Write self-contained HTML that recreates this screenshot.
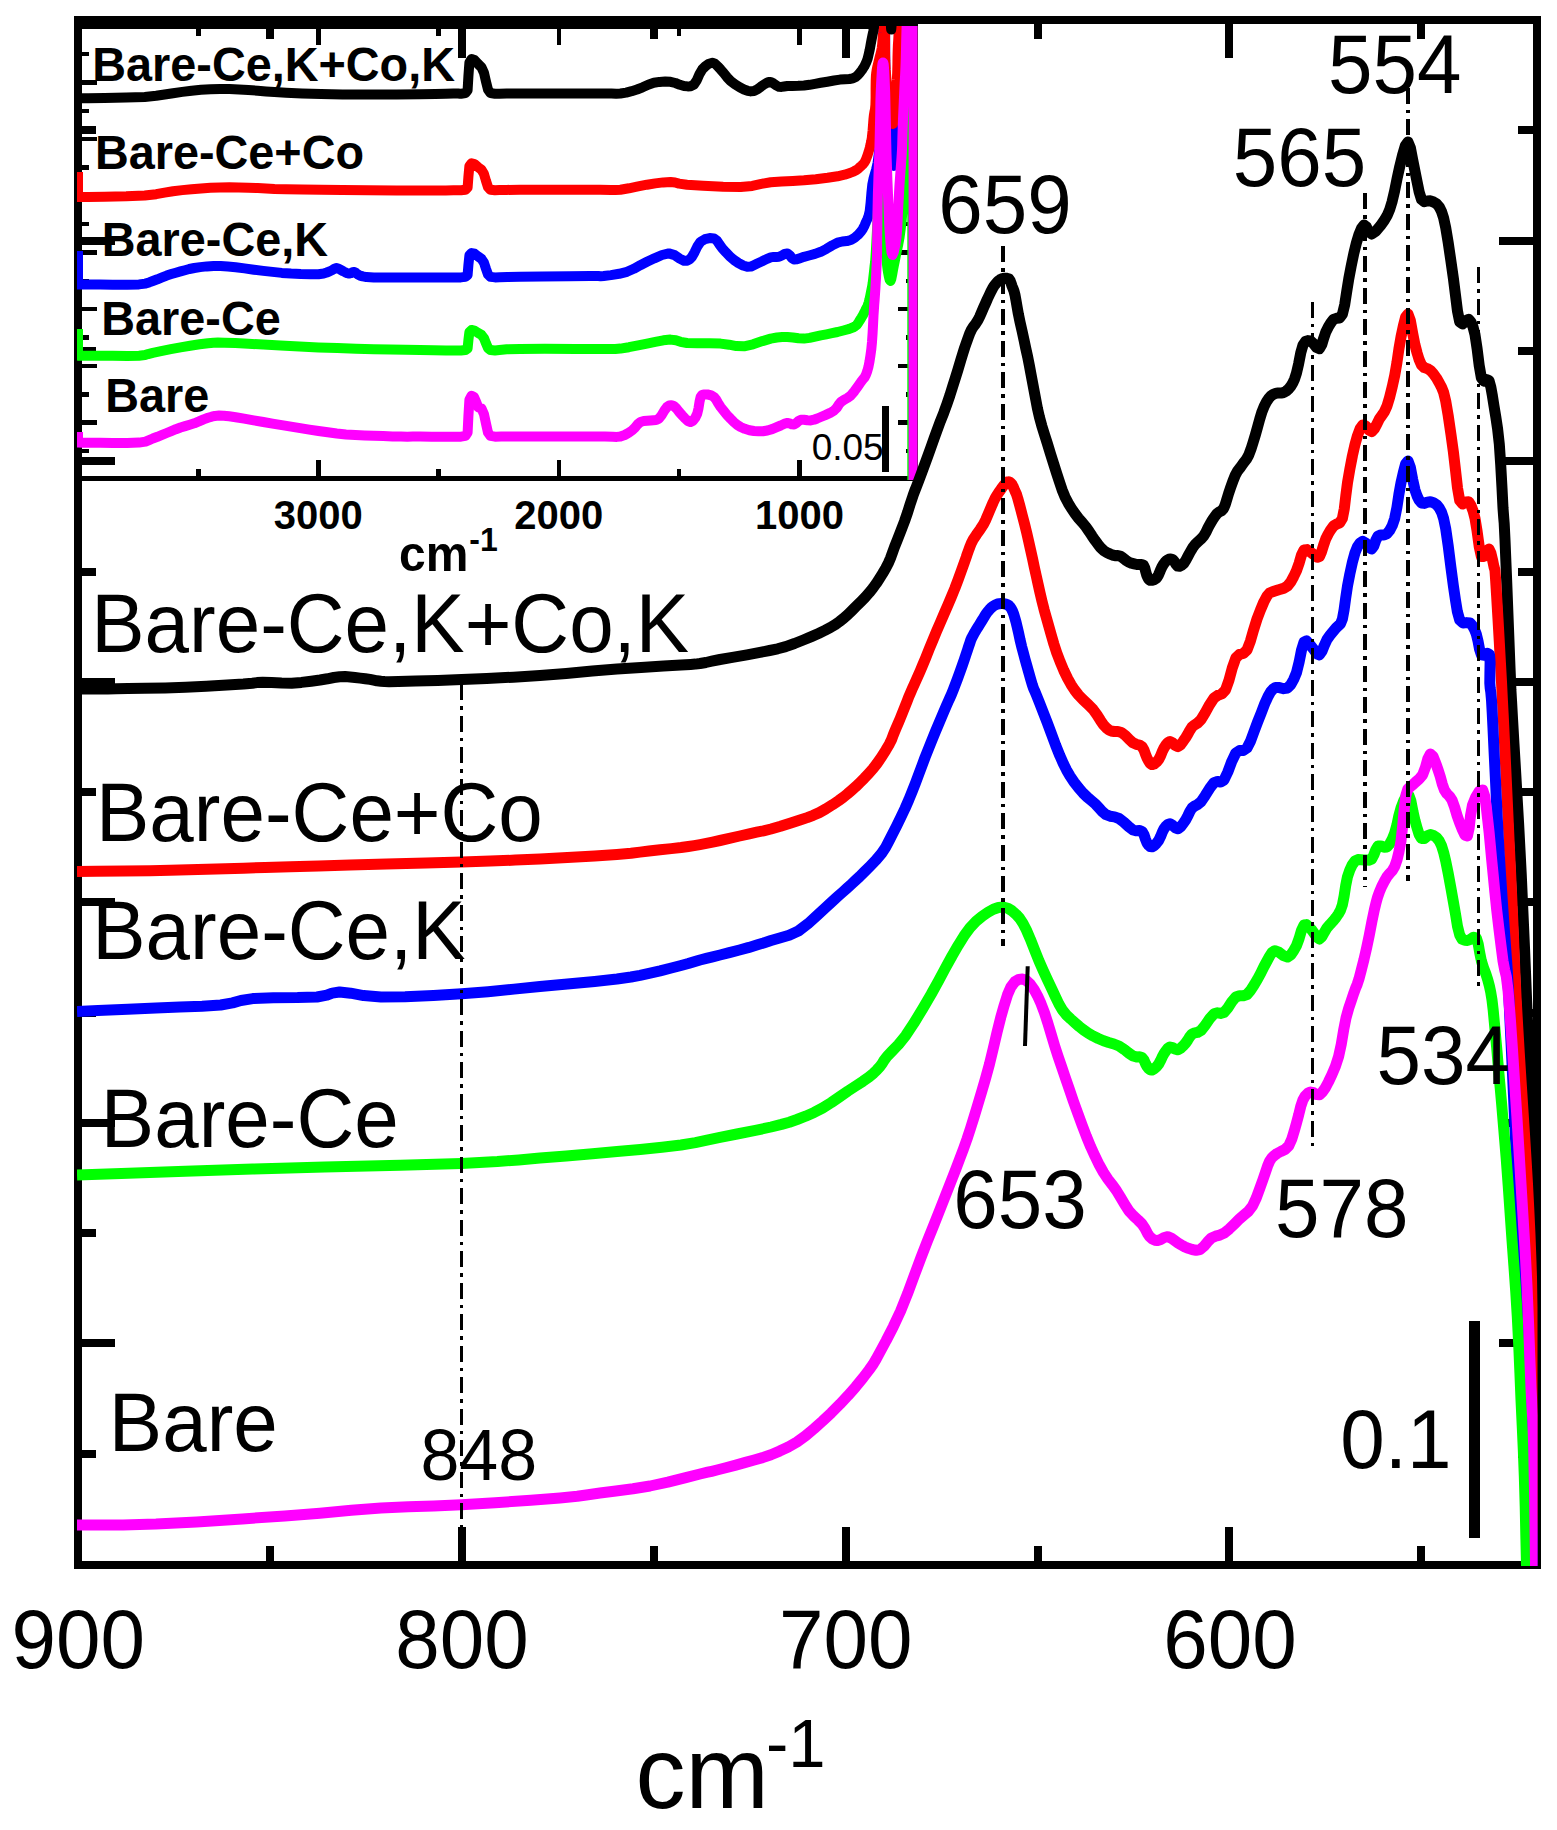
<!DOCTYPE html>
<html lang="en"><head><meta charset="utf-8"><title>IR spectra</title>
<style>html,body{margin:0;padding:0;background:#fff}body{width:1557px;height:1830px;overflow:hidden}svg{display:block}text{font-family:"Liberation Sans",Arial,Helvetica,sans-serif;fill:#000}.b{font-weight:bold}</style>
</head><body>
<svg width="1557" height="1830" viewBox="0 0 1557 1830">
<defs><clipPath id="cm"><rect x="77" y="20" width="1460.5" height="1546"/></clipPath><clipPath id="ci"><rect x="77" y="26" width="840.5" height="454"/></clipPath></defs>
<rect width="1557" height="1830" fill="#fff"/>
<g fill="#000" shape-rendering="crispEdges">
<rect x="74" y="16" width="8" height="1553"/><rect x="1533" y="16" width="8" height="1553"/><rect x="74" y="16" width="1467" height="8"/><rect x="74" y="1561" width="1467" height="8"/>
<rect x="266.0" y="1546" width="8" height="15"/>
<rect x="266.0" y="24" width="8" height="15"/>
<rect x="457.9" y="1527" width="8" height="34"/>
<rect x="457.9" y="24" width="8" height="34"/>
<rect x="649.8" y="1546" width="8" height="15"/>
<rect x="649.8" y="24" width="8" height="15"/>
<rect x="841.6" y="1527" width="8" height="34"/>
<rect x="841.6" y="24" width="8" height="34"/>
<rect x="1033.5" y="1546" width="8" height="15"/>
<rect x="1033.5" y="24" width="8" height="15"/>
<rect x="1225.4" y="1527" width="8" height="34"/>
<rect x="1225.4" y="24" width="8" height="34"/>
<rect x="1417.3" y="1546" width="8" height="15"/>
<rect x="1417.3" y="24" width="8" height="15"/>
<rect x="82" y="126.4" width="14" height="8"/>
<rect x="1518" y="126.4" width="15" height="8"/>
<rect x="82" y="236.7" width="33" height="8"/>
<rect x="1499" y="236.7" width="34" height="8"/>
<rect x="82" y="346.9" width="14" height="8"/>
<rect x="1518" y="346.9" width="15" height="8"/>
<rect x="82" y="457.2" width="33" height="8"/>
<rect x="1499" y="457.2" width="34" height="8"/>
<rect x="82" y="567.5" width="14" height="8"/>
<rect x="1518" y="567.5" width="15" height="8"/>
<rect x="82" y="677.7" width="33" height="8"/>
<rect x="1499" y="677.7" width="34" height="8"/>
<rect x="82" y="788.0" width="14" height="8"/>
<rect x="1518" y="788.0" width="15" height="8"/>
<rect x="82" y="898.2" width="33" height="8"/>
<rect x="1499" y="898.2" width="34" height="8"/>
<rect x="82" y="1008.5" width="14" height="8"/>
<rect x="1518" y="1008.5" width="15" height="8"/>
<rect x="82" y="1118.7" width="33" height="8"/>
<rect x="1499" y="1118.7" width="34" height="8"/>
<rect x="82" y="1229.0" width="14" height="8"/>
<rect x="1518" y="1229.0" width="15" height="8"/>
<rect x="82" y="1339.2" width="33" height="8"/>
<rect x="1499" y="1339.2" width="34" height="8"/>
<rect x="82" y="1449.5" width="14" height="8"/>
<rect x="1518" y="1449.5" width="15" height="8"/>
<rect x="78" y="24" width="840" height="5"/><rect x="78" y="476" width="840" height="5"/><rect x="913" y="24" width="5" height="457"/>
<rect x="196.0" y="469.0" width="4.5" height="7.0"/>
<rect x="196.0" y="29" width="4.5" height="6.5"/>
<rect x="316.2" y="460.0" width="4.5" height="16.0"/>
<rect x="316.2" y="29" width="4.5" height="15.5"/>
<rect x="436.4" y="469.0" width="4.5" height="7.0"/>
<rect x="436.4" y="29" width="4.5" height="6.5"/>
<rect x="556.6" y="460.0" width="4.5" height="16.0"/>
<rect x="556.6" y="29" width="4.5" height="15.5"/>
<rect x="676.8" y="469.0" width="4.5" height="7.0"/>
<rect x="676.8" y="29" width="4.5" height="6.5"/>
<rect x="797.0" y="460.0" width="4.5" height="16.0"/>
<rect x="797.0" y="29" width="4.5" height="15.5"/>
<rect x="82" y="51.8" width="6.5" height="4.5"/>
<rect x="906.0" y="51.8" width="7.0" height="4.5"/>
<rect x="82" y="80.1" width="15.0" height="4.5"/>
<rect x="897.5" y="80.1" width="15.5" height="4.5"/>
<rect x="82" y="108.5" width="6.5" height="4.5"/>
<rect x="906.0" y="108.5" width="7.0" height="4.5"/>
<rect x="82" y="136.8" width="15.0" height="4.5"/>
<rect x="897.5" y="136.8" width="15.5" height="4.5"/>
<rect x="82" y="165.2" width="6.5" height="4.5"/>
<rect x="906.0" y="165.2" width="7.0" height="4.5"/>
<rect x="82" y="193.5" width="15.0" height="4.5"/>
<rect x="897.5" y="193.5" width="15.5" height="4.5"/>
<rect x="82" y="221.9" width="6.5" height="4.5"/>
<rect x="906.0" y="221.9" width="7.0" height="4.5"/>
<rect x="82" y="250.2" width="15.0" height="4.5"/>
<rect x="897.5" y="250.2" width="15.5" height="4.5"/>
<rect x="82" y="278.6" width="6.5" height="4.5"/>
<rect x="906.0" y="278.6" width="7.0" height="4.5"/>
<rect x="82" y="306.9" width="15.0" height="4.5"/>
<rect x="897.5" y="306.9" width="15.5" height="4.5"/>
<rect x="82" y="335.3" width="6.5" height="4.5"/>
<rect x="906.0" y="335.3" width="7.0" height="4.5"/>
<rect x="82" y="363.6" width="15.0" height="4.5"/>
<rect x="897.5" y="363.6" width="15.5" height="4.5"/>
<rect x="82" y="392.0" width="6.5" height="4.5"/>
<rect x="906.0" y="392.0" width="7.0" height="4.5"/>
<rect x="82" y="420.3" width="15.0" height="4.5"/>
<rect x="897.5" y="420.3" width="15.5" height="4.5"/>
<rect x="82" y="448.7" width="6.5" height="4.5"/>
<rect x="906.0" y="448.7" width="7.0" height="4.5"/>
</g>
<g clip-path="url(#ci)" fill="none" stroke-width="10" stroke-linejoin="round" stroke-linecap="butt">
<path d="M78 251L78 284.6L83.1 284.6L90.6 284.6L100 284.6L112.7 284.7L127.2 284.7L139 284.4L145.5 283.6L149.1 282.4L152.8 281L157.4 279.3L162.1 277.4L166.7 275.6L171.3 274.1L175.9 272.7L180.5 271.4L184.9 270.2L189.3 269L194.3 268L200.2 267.1L206.8 266.4L213.6 266L220.6 266.1L227.8 266.6L235.7 267.3L244.5 268.4L253.9 269.7L263.3 270.9L272.5 271.9L281.8 272.9L291 273.6L300.8 274.1L310.6 274.3L318.5 274.2L323.6 273.5L326.8 272.5L329.6 271.4L332.2 270.1L334.4 268.7L336.5 268L338.8 268.7L341.2 270.1L343.4 271.4L345.4 272.4L347.2 273.2L349 273.6L350.8 273.2L352.6 272.3L354.4 272L355.9 272.9L357.5 274.3L360 275.6L362.8 276.4L366.5 277.1L373.8 277.5L387.2 277.6L404.2 277.6L420 277.5L433.6 277.5L445.9 277.5L455 277.5L459.4 277.5L460.5 277.4L461 277.4L465.5 276.9L467.6 275L468.4 265.2L469.4 255.4L471.5 253L474.5 253.7L478 256.4L481.5 258.9L484 262.8L486 268.9L488 274.5L490.5 276.9L495 277.4L499.8 277.3L507.4 277L520 276.8L542.1 276.5L569.2 276.2L590 276L598.4 276.1L600.5 276.3L603.7 276L610.9 275.1L619.1 273.8L627 271.8L633.8 268.8L640.3 265.2L647 261.8L654.4 258.3L662 255L668.8 253.4L674.6 255.1L679.7 258.6L684 260.8L687.2 260.7L689.6 259.4L692 256.8L694.6 252.2L697.4 246.3L700.6 241.7L704.9 239.2L709.7 238.1L714 238.4L717 240.7L719.5 244.5L722.3 248.4L725.9 252.3L729.9 256.4L734 260L738.4 263L743.1 265.5L747.3 266.8L750.8 266.6L753.8 265.2L757.3 263.5L761.7 261.5L766.5 259.1L770.7 257.4L773.8 256.9L776.4 257L779 256.8L781.9 255.5L784.7 253.9L787.4 253.4L789.6 255.1L791.6 257.8L794 259.5L796.8 259.3L800 258.2L804 256.8L809.1 255.5L815 253.9L820.8 251.8L826.5 248.8L832.2 245.4L837.5 242.7L842.3 241.5L846.8 241.1L850.9 240L854.7 237.7L858.1 234.8L860.9 231.7L863 228.6L864.6 225.4L866 222L867.4 219L868.6 215.9L869.7 211L870.6 202.9L871.4 193.1L872.3 184.6L873.5 178.7L874.8 174.2L876 170L876.9 166.2L877.6 162.7L878.2 158.4L878.8 153.6L879.4 148L880 140L880.5 128.6L881 114.9L881.5 100L882 83.7L882.5 66.3L883 50L883.4 34.4L883.7 20L884 10L884.4 4.4L884.7 3.3L885 10L885.1 29.3L885.2 56.3L885.5 80L886 96L886.7 108.7L887.5 120L888.4 130.6L889.4 139.9L890.5 148L891.6 156.4L892.8 163.6L893.8 166L894.5 160.5L895 150.1L895.5 140L896.1 132.3L896.8 124.8L897.5 116L898.3 106.1L899.2 95L900 80L900.8 56.6L901.5 29.4L902 10L913 10L913 490" stroke="#0000ff"/>
<path d="M78 172L78 197L78.9 197.1L80.8 197.1L88 197L104.5 196.7L126.2 196.3L144.7 195.5L156.2 194.2L164.6 192.6L173 191.2L182.3 190.1L191.6 189.2L201 188.4L210.5 187.8L220 187.5L229.5 187.3L238.9 187.4L248.3 187.7L257.7 188L266.1 188.4L274.5 188.9L286 189.3L302 189.6L321.1 189.8L342.5 190L368.4 190.2L396.7 190.4L420 190.5L435.4 190.5L445.8 190.4L453.4 190.3L458.1 190.3L460 190.3L461 190.3L465.5 189.8L467.6 187.6L468.4 176.8L469.4 166L471.5 163.3L474.5 164.1L478 167.1L481.5 169.8L484 174.1L486 180.9L488 187.1L490.5 189.8L495 190.3L499.4 190.1L506.7 189.9L520 189.7L544.8 189.7L575.7 189.7L600 189.7L611 189.9L615.3 190.1L620.4 189.7L628.9 188.3L638.1 186.4L647 184.7L655.3 183.4L663.3 182.4L670.5 182L675.1 182.5L679 183.6L687 184.7L703 185.8L723.1 186.8L740.6 187L752.3 185.9L761.3 183.9L770.7 182.3L781.6 181.5L792.8 181L804 180.3L815.8 179.2L827.6 177.8L837.5 176.3L844.6 174.7L849.9 173L854 171.3L856.9 169.8L858.5 168.4L860 167L861.5 165.7L862.9 164.4L864 163L864.9 161.6L865.7 160.1L866.5 158L867.6 155L868.7 151.5L869.7 148L870.5 144.7L871.2 141.4L871.8 138L872.2 134.3L872.6 130.4L872.9 126.5L873.2 122.6L873.5 118.7L873.9 115L874.4 112.1L875 109.3L875.4 105L875.6 97.6L875.6 88.6L875.7 81L875.9 76.2L876.2 72.9L876.7 69.7L877.4 66.4L878.2 63.3L879 60L879.9 56.3L880.9 52.4L881.7 48.4L882.2 44.3L882.5 40.2L882.8 36.3L883.1 33.1L883.3 30.1L883.5 26.4L883.7 20.8L883.8 14.5L884 10L884.2 7.9L884.4 7.5L884.6 10L884.8 16.4L885 25.7L885.1 35L885.1 43.7L885.1 52.4L885.3 61L885.7 69.3L886.3 77.4L887 85L887.8 92.2L888.7 99L889.5 105L890.2 110.1L890.9 114.4L891.5 118L892 121.1L892.5 123.4L893 124L893.5 122.5L894 119.4L894.5 115L895 109.3L895.5 102.3L896 95L896.4 87.5L896.9 79.7L897.2 72L897.4 64.3L897.5 56.8L897.7 50L897.9 44.9L898.2 40.5L898.5 35L898.9 26.5L899.2 16.9L899.5 10L913 10L913 490" stroke="#ff0000"/>
<path d="M78 98L78.9 98.1L80.8 98.3L88 98.3L104.5 98L126.2 97.6L144.7 96.9L156.2 95.8L164.6 94.5L173 93.2L182.3 91.9L191.6 90.7L201 89.8L210.5 89.2L220 89L229.5 89L238.9 89.4L248.3 90L257.7 90.7L266.1 91.4L274.5 92L286 92.7L302 93.4L321.1 94L342.5 94.4L368.4 94.5L396.7 94.4L420 94.2L435.4 94L445.8 93.7L453.4 93.5L458.1 93.5L460 93.7L461 93.8L465.5 93.1L467.6 90.3L468.4 76.4L469.4 62.5L471.5 59L474.5 60L478 63.9L481.5 67.4L484 72.9L486 81.6L488 89.6L490.5 93.1L495 93.8L499.4 93.7L506.7 93.6L520 93.5L544.8 93.5L575.7 93.5L600 93.5L611.4 93.6L616.1 93.8L620.4 93.5L626.2 92.6L631.6 91.2L637 89.5L642.6 87.3L648.2 84.7L653.8 82.8L659.5 81.9L665.2 81.5L670.5 81.8L675.4 83L679.9 84.8L684 86L687.7 86.4L690.9 86.2L694 84.5L696.8 80.2L699.4 74.3L702.2 69.4L705.5 66.1L709 63.7L712.3 62.8L715.1 63.8L717.8 66.3L720.6 69.4L723.7 73L727 77.2L730.6 81L734.9 84.3L739.7 87.3L744 89.5L747.6 90.8L750.8 91.4L754 91L757.5 89.3L760.9 86.7L764 84.5L766.4 83.1L768.5 82.1L770.7 82L773.3 83.3L776.2 85.3L779 86.8L781.5 86.9L784 86.5L787.4 86L792.3 85.9L798.1 85.8L804 85.5L809.5 84.8L815 83.8L820.8 82.8L827.3 81.7L834 80.5L840 79.6L845 79.2L849.4 79L853 78.3L855.7 77L857.7 75.3L859.7 73L862 70L864.3 66.4L866.2 62.6L867.6 58.7L868.6 54.6L869.5 50.7L870.2 47.1L870.8 43.7L871.5 40L872.3 36L873.2 31.7L874 27L874.3 21L874.5 14.6L876 10L879.9 8.4L885.1 8.6L889 10L890.4 12.6L890.5 16.3L890.5 20L890.8 23.9L891 27.8L891.2 29.6L891.4 27.8L891.7 23.9L892 20L892.5 16.3L893.1 12.6L893.5 10L913 10L913 490" stroke="#000"/>
<path d="M78 329L78 355.7L83.1 355.7L90.6 355.7L100 355.7L112.7 355.8L127.2 355.9L139 355.7L145 355.1L148.1 354.1L152.8 352.9L161 351.2L170.8 349.2L180.5 347.4L190.1 345.8L199.6 344.3L208 343.2L213.5 342.7L217.8 342.6L224.6 342.7L235.3 343.1L248.4 343.8L263.3 344.6L280.5 345.5L299.5 346.5L318.5 347.4L337.3 348.1L356 348.8L373.8 349.3L390.3 349.6L405.8 349.8L420 350L433.6 350.2L445.9 350.5L455 350.6L459.4 350.6L460.5 350.5L461 350.4L465.5 350L467.6 348.4L468.4 340.2L469.4 332L471.5 330L474.5 330.6L478 332.9L481.5 334.9L484 338.2L486 343.3L488 348L490.5 350L495 350.4L499.4 350L506.7 349.3L520 348.9L544.8 348.8L575.7 348.9L600 348.9L611 349L615.3 349.1L620.4 348.6L628.9 347.2L638.1 345.4L647 343.6L655.3 341.9L663.3 340.3L670.5 339.6L675.9 340.3L680.5 341.8L687 343L697.3 343.3L709.5 343.3L720.6 343.6L729 344.7L736.3 346.1L744 346.3L753 344.3L762.4 341.1L770.7 338.6L777 337.5L782.2 337.1L787.4 337L792.9 337.5L798.5 338.3L804 338.6L809.6 337.9L815.2 336.6L820.8 335.3L826.4 334.3L832 333.2L837.5 332L843.4 330.5L849.3 328.9L854 327L856.9 324.8L858.5 322.4L860 320L861.5 317.6L862.9 315.2L864 313L865 311.2L865.7 309.6L866.5 308L867.3 306.4L868 304.7L868.7 302.5L869.5 299.3L870.3 295.6L871 292L871.6 289L872.2 286.1L872.7 282.8L873.2 278.7L873.7 274.2L874.2 269.7L874.6 265.8L875.1 262L875.5 256.6L876 248.9L876.5 239.6L877 230L877.5 220.3L878 210.1L878.5 200L879 189.6L879.5 179.3L880 170L880.6 161.1L881.3 153.3L882 150L882.7 152.9L883.4 160.2L884 170L884.6 182.3L885.1 197L885.5 212L885.9 227.6L886.1 243.3L886.5 256L886.9 263.7L887.4 268.2L888 272L888.8 276.3L889.6 279.7L890.5 281L891.3 278.9L892.2 274.6L893 270L893.8 265.9L894.7 261.6L895.7 256.6L896.9 250.8L898.3 244.2L899.6 237L900.7 228.8L901.7 219.9L902.5 211L902.8 202.2L902.9 193.4L903 184.6L903.1 175.4L903.3 166.2L903.5 158L903.8 152.2L904.1 147.3L904.5 140L905.1 130.1L905.9 117.9L906.5 100L906.9 70.4L907.3 35.2L907.5 10L912.3 10L912.3 490" stroke="#00ff00"/>
<path d="M78 432L78 442.6L83.1 442.7L90.6 442.8L100 442.8L112.7 442.9L127.2 443L139 442.6L145.5 441.6L149.1 440.1L152.8 438.5L157.4 436.8L162.1 434.9L166.7 433L171.3 431.1L175.9 429.2L180.5 427.5L185.1 426.1L189.7 424.7L194.3 423.3L199 421.4L203.6 419.4L208 417.8L211.7 416.7L215 415.9L219 415.6L223.7 415.7L229.1 416.3L235.7 417.2L244.1 418.6L253.7 420.3L263.3 422L272.5 423.6L281.8 425.1L291 426.6L300.2 428.1L309.3 429.6L318.5 431L327.7 432.3L336.8 433.5L346 434.4L355.3 435L364.6 435.4L373.8 435.7L383.2 436.1L392.6 436.4L401 436.6L407.3 436.7L412.8 436.6L420 436.6L431.6 436.7L444.9 436.7L455 436.8L459.4 436.8L460.5 436.7L461 436.7L465.5 435.9L467.6 432.6L468.4 416.2L469.4 399.9L471.5 395.8L474 397L476.3 402.3L478.2 407.3L481.5 408.5L484 414.2L486 423.6L488 432.6L490.5 435.9L495 436.7L501.2 436.6L510.1 436.6L520 436.5L529.9 436.5L540.8 436.5L553.6 436.5L570.7 436.5L589.9 436.5L605 436.5L612.9 436.7L616.9 436.9L620.4 436.5L624.7 435L628.5 432.9L632 430.5L635 427.6L637.6 424.4L640.4 422L643.7 421L647.2 420.7L650.5 420.4L653.4 420.2L656.1 420.1L658.8 418.8L661.6 415.2L664.4 410.5L667 407L669.3 405.5L671.5 405.2L673.8 406L676.5 408.5L679.3 412.1L682.2 415.4L685 418.4L687.9 421L690.5 422L693 420.7L695.3 417.7L697.2 413.8L698.5 408.3L699.5 401.9L700.6 397L702 394.9L703.6 394.4L705.6 394.4L708.2 394.6L711.2 395.4L714 397L716.2 399.7L718.2 403.3L720.6 407L723.7 410.9L727.1 415.1L730.6 418.8L733.8 422L737 424.7L740.6 427L744.8 428.8L749.4 430.2L754 431L758.5 431.3L762.9 431.2L767.4 430.5L772.1 429.1L776.8 427.1L780.7 425.5L783.4 424.3L785.4 423.4L787.4 423L789.6 423.4L791.8 424.3L794 424.5L796.1 423.2L798.3 421.2L800.8 419.8L803.9 419.8L807.3 420.3L810.8 420.4L814 419.7L817.2 418.5L820.8 417L825.3 415.1L830.1 412.9L834.2 410.4L836.8 407.7L838.7 404.7L840.9 402L844 399.9L847.4 398L850.9 395.4L854.4 391.2L857.9 386.3L860.9 382L863 379.3L864.6 377.3L866 374.7L867.3 371L868.5 366.6L869.5 361.5L870.4 355.7L871.3 349.2L872 341.9L872.6 333.2L873.1 323.8L873.5 315.6L873.9 309.7L874.2 304.9L874.6 300L875 294.2L875.4 288.3L875.7 282.8L876 278.2L876.2 274L876.4 269.7L876.6 265.4L876.8 261L877 256L877.1 250.3L877.1 244L877.2 237L877.3 228.9L877.4 220L877.5 211L877.7 202.2L877.9 193.4L878.2 184.6L878.5 175.2L878.8 165.9L879.1 158L879.3 153.1L879.4 149.8L879.5 145L879.7 137.3L879.9 128.2L880.1 119L880.3 110.2L880.4 101.4L880.7 92.7L881.1 83.6L881.6 74.8L882 68L882.4 64.3L882.7 62.8L883 62.5L883.3 62.8L883.7 64.3L884 68L884.4 74.8L884.8 83.6L885.2 92.7L885.4 101.4L885.6 110.2L885.8 119L886 127.7L886.1 136.3L886.3 145L886.5 153.6L886.8 162.1L887.1 171L887.4 180.1L887.8 189.6L888.2 200L888.7 212.4L889.3 225.8L890 237L890.7 245.7L891.5 252.4L892.5 255L893.8 252L895.3 244.9L896.5 237L897.2 228.9L897.6 220L898 211L898.5 202.2L899 193.4L899.5 184.6L900.2 175.2L900.9 165.9L901.5 158L901.8 153.1L902 149.8L902.2 145L902.4 137.3L902.7 128.2L903 119L903.4 110.3L903.8 101.5L904.2 92.7L904.6 84L905.1 75.3L905.5 66.5L905.8 57.8L906 49.1L906.2 40L906.5 29.1L906.8 17.9L907 10L913.6 10L913.6 490" stroke="#ff00ff"/>
</g>
<g clip-path="url(#cm)" fill="none" stroke-width="11" stroke-linejoin="round" stroke-linecap="butt">
<path d="M77 689L82.8 689L91.1 689L100 689L107.8 688.9L116.1 688.7L127.8 688.5L144.8 688.2L165.2 687.9L185.6 687.3L206.3 686.3L227 685.1L243.4 684L252.3 683.2L257 682.6L262.7 682.3L271.6 682.6L281.6 683.1L291.6 683.2L301.4 682.4L311.2 681.2L320 680L327.4 678.8L333.8 677.5L339.7 676.7L345.1 676.6L350.1 677L355 677.5L360.2 678.1L365.3 678.7L370 679.4L373.7 680.1L377 680.8L381 681.3L384.6 681.6L389 681.7L398.4 681.5L415.5 681.1L437.8 680.4L461.7 679.5L486.7 678.4L513.4 677.2L540 675.6L566.2 673.5L592.3 671.1L617 669L641 667.4L663.5 666.1L681 665L690.6 664.4L695.3 664.1L700 663.5L705.9 662.5L711.8 661.2L720 659.5L732.4 657.3L747 654.8L760 652.4L769.6 650.5L777.7 648.8L785.7 646.6L794.5 643.5L803.3 640L811.4 636.6L818.5 633.5L824.9 630.4L830.6 627.4L835.4 624.5L839.4 621.6L843.5 618.4L847.8 614.6L852 610.5L856.3 606.2L860.7 601.8L865.1 597.3L869.2 592.7L872.9 588.1L876.3 583.4L879.5 578.5L882.7 573.4L885.7 568.3L888.4 563L890.5 558.1L892.3 553.1L894.5 547L897.6 539.2L901.1 530.3L904.5 521.4L907.6 512.4L910.4 503.4L913 495.7L914.9 490.5L916.5 486.4L918.5 481.2L921.4 473.5L924.7 464.5L928 455.5L931.1 446.9L934.1 438.4L937.2 429.8L940.4 421.2L943.8 412.7L946.9 404.1L949.8 395.6L952.5 387L955.2 378.5L958 369.5L960.7 360.4L963 352.8L964.7 347.5L966.1 343.5L967.4 339.9L968.7 336.2L970 332.8L971.5 329.6L973.4 326.6L975.6 323.8L977.7 320.6L979.7 316.6L981.6 312.2L983.5 307.8L985.5 303.4L987.4 299L989.3 295L990.9 291.6L992.5 288.6L994 286L995.7 283.8L997.4 281.9L999 280.5L1000.3 279.5L1001.6 278.9L1003 278.5L1005 278.2L1007.1 278.3L1009 279L1010.2 280.8L1011.1 283.3L1012 286L1013 288.5L1014 291.2L1015 295L1016 300.4L1017.1 306.9L1018.4 314.2L1020.1 322.3L1022.1 331.1L1024 339.9L1025.8 348.5L1027.7 357L1029.4 365.6L1031 374.2L1032.6 382.7L1034.2 391.3L1035.8 399.8L1037.4 408.3L1039.4 417L1041.8 425.8L1044.6 434.8L1047.5 444L1050.5 453.9L1053.7 464L1056.7 473.5L1059.5 482L1062.1 489.8L1065 496.9L1068.2 503.1L1071.5 508.5L1075 513.6L1078.6 518.3L1082.4 522.6L1085.9 526.9L1089.1 531.5L1092.1 536.1L1095 540.3L1097.8 544.1L1100.5 547.5L1103.4 550.3L1106.7 552.5L1110.3 554.1L1113.4 555.3L1115.8 555.7L1117.8 555.5L1120 556L1122.7 557.7L1125.6 560.1L1128.5 562L1131.3 563.2L1134.2 563.9L1136.8 564.5L1139.3 564.6L1141.6 564.4L1143.5 565.3L1144.8 568.1L1145.8 572L1146.8 575.3L1147.8 577.6L1148.8 579.4L1150.2 580.3L1152.2 580.3L1154.6 579.5L1156.8 577.8L1158.6 574.7L1160.3 570.6L1161.9 567L1163.5 564.2L1165.2 561.9L1166.9 560.3L1168.8 559.3L1170.8 559L1172.7 559.5L1174.4 561.5L1176 564.3L1177.7 566.1L1179.6 566.3L1181.5 565.4L1183.6 563.6L1185.8 560.3L1188.1 555.9L1190.2 552L1191.9 549.2L1193.3 546.8L1195.2 544.4L1197.8 541.8L1200.8 539.2L1203.6 536.1L1206 532.2L1208.1 527.7L1210.3 523.6L1212.5 519.9L1214.8 516.5L1217 513.6L1219.3 511.9L1221.5 510.8L1223.6 508.5L1225.3 504.4L1226.9 499.1L1228.6 493.5L1230.7 487.3L1233 480.8L1235.3 475.2L1237.5 471.2L1239.8 468.2L1242 465.1L1244.2 462.1L1246.5 459.2L1248.7 455.1L1250.9 449.3L1253.1 442.4L1255.3 435.1L1257.5 427.2L1259.8 418.9L1262 411.7L1264.2 406.2L1266.5 401.8L1268.7 398.4L1270.9 396L1273 394.5L1275.4 393.4L1278.1 393L1280.9 393.1L1283.7 392.5L1286.3 391L1288.7 388.9L1291 386L1292.9 382.7L1294.7 378.7L1296.5 373L1298.6 363.9L1300.7 353.1L1303 345L1305.4 341.5L1307.9 340.6L1310.5 341L1313.5 343.6L1316.6 347.5L1319.4 348.7L1321.7 344.8L1323.7 338.2L1325.8 332L1328.2 327.2L1330.8 322.9L1333.5 319.4L1336.5 318.3L1339.6 318L1342.4 314.3L1344.7 304.7L1346.7 291.6L1348.8 278.6L1351.2 266L1353.8 253.5L1356.4 242.9L1358.9 234.6L1361.5 228.3L1364 225L1366.4 226.9L1368.8 231.7L1371.7 234L1375.8 231.2L1380.4 225.8L1384.5 220L1387.4 215L1389.7 209.5L1392 202L1394.6 191L1397.2 178L1399.8 166.3L1402.5 155.4L1405.3 145.7L1408 142L1410.4 147.9L1412.7 159.7L1415 171.4L1417.1 181.9L1419.2 192.2L1421.5 199.5L1424.3 201.7L1427.3 201L1430.4 200.8L1433.5 202L1436.5 203.7L1439.3 207L1441.6 211.7L1443.6 217.9L1445.7 227.6L1448.2 242.6L1450.9 261L1453.4 278.6L1455.5 295.3L1457.5 311.2L1459.7 322L1462.6 323.9L1465.8 320.6L1468.7 319.4L1471 322.1L1473 326.9L1475 334.7L1477.1 348.6L1479.2 365.5L1481.4 378L1483.9 381L1486.6 379.6L1489 380.6L1490.8 386.9L1492.4 395.8L1494 406L1495.8 416.8L1497.6 428.9L1499.3 444L1500.7 464.6L1502 488.1L1503 508L1503.7 517.5L1504.2 523.4L1505 540L1506.6 578.9L1508.5 628.5L1510 667.5L1510.7 684L1510.9 689.9L1511.5 700L1512.6 720.1L1514 744.2L1515.5 769.6L1517 795.8L1518.6 823.2L1520 850L1521.3 875.4L1522.4 900.2L1523.5 925L1524.6 949.8L1525.6 974.6L1526.6 1000L1527.7 1025.6L1528.8 1051.7L1530 1080L1531.2 1110L1532.5 1142.2L1534 1180L1535.7 1222.6L1537.6 1270.7L1540 1330L1543.4 1415.2L1547.3 1511.5L1550 1580" stroke="#000"/>
<path d="M77 871.5L96.5 871.3L124.1 871L150 870.7L170.1 870.3L188.5 869.8L207 869.3L225.3 868.8L243.6 868.2L265 867.5L290.3 866.7L318.7 865.9L350 865L386.5 864L426 863L461.7 862L490.3 861.1L515.2 860.1L540 859L567.4 857.6L594.7 856L617 854.5L631 853.3L640 852.1L649 851L660.1 849.8L671.3 848.6L681 847.5L688.3 846.5L694.1 845.6L700 844.6L706.3 843.4L712.6 842.1L720 840.5L729.3 838.4L739.7 836L749.2 833.8L756.7 832.2L763.5 830.8L771 829L780.5 826.3L790.8 823L800 820L807.2 817.6L813.2 815.3L819.3 812.6L825.9 808.9L832.6 804.7L838.5 800.7L843.3 797.2L847.3 794L851.4 790.5L855.7 786.7L859.9 782.6L864.2 778.3L868.5 773.7L872.8 768.9L877 763.5L881.4 757.2L885.7 750.3L889.3 744.2L891.6 739.5L893.1 735.4L894.7 731.4L896.5 727.1L898.4 722.8L900.2 718.5L901.9 714.2L903.6 710L905.3 705.7L907 701.4L908.7 697.1L910.5 692.8L912.3 688.6L914.2 684.4L916.2 680L918.1 675.7L920.1 671.2L922.5 665.5L925.7 657.8L929.3 648.8L933 639.8L936.6 631.2L940.3 622.6L944 614L947.7 605.5L951.3 597L954.8 588.5L958.2 579.5L961.5 570.4L964.2 562.8L966.1 557.5L967.4 553.6L968.7 550L970 546.5L971.3 543.3L973.2 539.6L976.4 534.7L980.2 529.3L983.5 524.2L985.8 519.7L987.5 515.6L989.3 511.4L991.2 506.9L993.1 502.5L995 498.5L996.9 495.2L998.7 492.5L1000.5 490L1002.1 487.7L1003.6 485.6L1005 484L1006.2 482.8L1007.4 482L1008.5 481.8L1009.7 482.2L1010.9 483.1L1012 484.5L1013 486.3L1014 488.6L1015 491L1015.8 492.8L1016.6 494.6L1017.8 498.5L1019.8 505.7L1022.2 515L1024.6 524.2L1026.7 532.8L1028.7 541.4L1030.6 550L1032.5 558.5L1034.3 567.1L1036.2 575.6L1038.1 584.2L1040 592.7L1042 601.3L1044.2 609.9L1046.6 618.4L1049 627L1051.4 635.6L1053.9 644.1L1056.7 652.7L1060.1 661.6L1063.8 670.5L1067.6 678.4L1071.1 684.7L1074.6 690L1078.5 695L1083.2 699.9L1088.3 704.6L1093 709.4L1096.9 714.8L1100.4 720.3L1103.5 724.8L1106.1 727.7L1108.4 729.6L1111 731L1114.2 731.5L1117.8 731.5L1121.5 732.5L1125.4 735.5L1129.3 739.5L1133 742.8L1136.3 744.3L1139.4 745L1142 746.6L1144 750L1145.5 754.3L1147 758L1148.6 761L1150.2 763.4L1152 764.6L1154.2 764L1156.5 762.1L1158.7 759.5L1160.5 756L1162.2 751.7L1164 748L1165.9 745L1167.8 742.6L1170 741.5L1172.5 742.9L1175.3 745.5L1178 746.6L1180.6 744.7L1183.2 741.2L1185.7 737.6L1187.8 734.1L1189.8 730.4L1192 727L1194.7 724.8L1197.6 723L1201 719.6L1205.1 712.9L1209.6 704.7L1214 698L1218 695.2L1221.8 693.9L1225.5 690L1229 680.2L1232.3 667.8L1235.8 658L1239.5 654.4L1243.3 653.5L1247 650L1250.4 641.1L1253.7 629.6L1257 619L1260.4 610.1L1263.8 602L1267 596L1269.6 593L1271.9 592L1274.8 591L1278.8 589.7L1283.4 588.4L1287.5 586L1290.8 581.8L1293.7 576.5L1296.5 570.6L1299.1 563.2L1301.4 555.2L1304 550L1307 549.6L1310.1 551.9L1313 554L1315.3 555.7L1317.4 557.3L1319.4 556.6L1321.5 552L1323.6 545.1L1325.8 538.8L1328.2 534L1330.8 529.7L1333.5 526L1336.5 524.1L1339.7 522.8L1342.4 518.4L1344.3 508.7L1345.8 495.8L1347.5 482.7L1349.8 469.4L1352.4 455.9L1355 444.4L1357.5 435.6L1360.1 428.8L1362.8 425L1365.7 426L1368.8 429.9L1371.7 431.6L1374.4 428.8L1376.9 423.9L1379.4 418.9L1381.9 415.3L1384.5 411.6L1387 406L1389.6 397.4L1392.2 386.9L1394.7 375.5L1396.9 362.7L1398.9 349L1401 337L1403.3 326.2L1405.6 317.1L1408 314L1410.4 320.7L1412.7 333.5L1415 345L1417.1 353L1419.2 359.8L1421.5 365L1424.3 367.6L1427.3 368.6L1430.4 370.4L1433.5 373.9L1436.5 378.1L1439.3 383L1441.6 387.4L1443.6 392.4L1445.7 401L1448.2 415.6L1450.9 434L1453.4 452L1455.5 470.1L1457.5 487.9L1459.7 500.5L1462.6 503.9L1465.8 502L1468.7 501.8L1471 505.4L1473 510.7L1475 518.4L1477.1 531.2L1479.2 546.5L1481.4 556.6L1483.9 556.5L1486.6 551.3L1489 549L1491 553.4L1492.7 560.6L1494 567L1494.7 569.2L1495 570.7L1495.5 578L1496.6 595.6L1498 619.1L1499.3 642L1500.4 662.3L1501.5 681.9L1502.4 700L1503.1 713.4L1503.7 725.3L1504.6 744L1506.1 775.9L1507.9 814.7L1509.5 850L1510.8 877.3L1511.9 901.1L1513 925L1514 949.8L1515 974.6L1516.2 1000L1517.7 1026.3L1519.3 1053.3L1521 1080L1522.7 1106.4L1524.4 1132.6L1526 1158.6L1527.5 1184L1528.8 1209.2L1530 1235L1531 1261.9L1531.9 1289.4L1532.8 1317L1533.7 1341L1534.7 1365.1L1536 1400L1538 1459.5L1540.3 1529.7L1542 1580" stroke="#ff0000"/>
<path d="M77 1011.5L98 1010.6L127.8 1009.3L156 1008L179.8 1007.1L202.1 1006.2L220.7 1005L232.6 1002.9L240.9 1000.5L252.8 998.6L273.4 997.8L297.5 997.6L317 997L326.9 995.2L332.2 993.1L339.6 992L350.6 993.2L363.6 995.6L381 997L405.1 996.7L433.5 995.5L461.7 993.8L488 991.7L514.1 989.1L540 986.5L567.4 983.9L594.7 981.4L617 979L631 977L640 975.3L649 973.3L660.1 970.8L671.3 968L681 965.5L688.3 963.5L694.1 961.7L700 960L706.3 958.4L712.6 956.8L720 955L729.3 952.6L739.5 950L749 947.4L756.7 945.1L763.5 943L771 940.5L779.7 938L789.1 935.3L798.4 931L808 923.7L817.7 914.9L825.7 907.4L831 902.6L834.8 899.2L838.5 895.8L842.8 892L847.1 888.1L851.4 884.2L855.5 880.4L859.6 876.6L864.2 872L869.9 866.3L876.1 859.9L881.6 853.4L885.7 847.2L889 840.9L892.5 834L896.6 826L900.9 817.2L905 808.5L908.7 800L912.2 791.4L915.6 782.8L918.8 774.2L922 765.6L925.2 757L928.6 748.5L932 739.9L935.5 731.4L939.3 722.3L943.2 713.2L946.4 705.7L948.5 700.9L950 697.6L951.6 694L953.4 689.4L955.3 684.5L957.4 679L959.8 672.4L962.3 665.3L964.5 659L966.1 654.1L967.5 650L968.7 646.3L969.8 643.1L970.7 640.3L972 637.3L973.9 633.8L976 630.2L978 627L979.5 624.6L980.7 622.6L982 620.5L983.5 618.1L985 615.6L986.5 613.3L988 611.3L989.5 609.6L991 608L992.6 606.6L994.3 605.5L996 604.6L997.7 604L999.3 603.7L1001 603.6L1002.7 603.6L1004.4 603.8L1006 604.2L1007.4 604.7L1008.7 605.5L1010 606.8L1011.3 608.6L1012.5 611L1013.7 614L1014.8 617.7L1016 622L1017.2 627L1018.6 633L1020 639.6L1021.6 646.3L1023.3 652.7L1025 659.1L1026.8 665.5L1028.7 672.3L1030.6 679L1032.3 684.8L1033.5 688.3L1034.6 690.7L1036.4 695L1039.4 702.5L1043.1 711.9L1047 722L1051.2 733.2L1055.6 745.1L1059.8 755.6L1063.3 763.5L1066.5 769.9L1070 776L1074.1 782.1L1078.6 787.9L1083 793L1087.4 797.3L1091.7 800.9L1095.8 804.4L1099.3 808.2L1102.5 811.8L1106 814.7L1110.1 816.2L1114.5 816.9L1119 818.5L1123.8 822.1L1128.7 826.6L1133 830L1136.5 830.8L1139.5 830.6L1142 831.4L1144 834.8L1145.5 839.3L1147 843L1148.6 845.2L1150.2 846.6L1152 846.8L1154.2 845.6L1156.5 843.3L1158.7 840.4L1160.5 836.7L1162.2 832.4L1164 828.8L1165.9 826.2L1167.8 824.4L1170 823.7L1172.5 825.2L1175.3 827.8L1178 828.8L1180.6 826.9L1183.2 823.5L1185.7 819.8L1187.8 815.9L1189.8 811.6L1192 808L1194.7 806L1197.6 804.6L1201 801.8L1205.1 795.7L1209.7 788.3L1214 782.6L1217.5 781.4L1220.6 782.1L1224 780L1227.8 772L1231.8 761.3L1235.8 753L1239.6 750.5L1243.3 750.4L1247 748L1250.6 740.9L1254.1 731.4L1257.6 722L1261.2 712.9L1264.7 703.8L1268 696.5L1270.6 691.9L1272.9 689.2L1275.6 687.5L1279.4 687.6L1283.6 688.7L1287.5 688L1290.8 684.6L1293.7 679.4L1296.5 672.6L1299.1 662.2L1301.5 650.1L1304 642L1306.6 640.9L1309.2 643.8L1311.8 647L1314.3 650.2L1316.9 653.8L1319.4 654.8L1321.9 651.3L1324.4 645.2L1327 639.5L1330 635.3L1333.1 631.5L1336 628L1338.4 625.7L1340.5 623.7L1342.4 619L1344.1 609.8L1345.7 597.9L1347.5 586L1349.8 574.1L1352.4 562.3L1355 552.8L1357.5 546.6L1360.1 542.9L1362.8 541.3L1365.8 543.2L1368.9 547.3L1371.7 549L1373.9 545.8L1375.8 540.3L1378 536L1380.8 534.9L1384 535L1387 533.7L1389.7 530.3L1392.3 525.5L1394.7 518.4L1396.9 507.5L1398.9 494.3L1401 482.7L1403.3 472.6L1405.6 464L1408 461L1410.4 467.5L1412.7 479.6L1415 490L1417.1 496L1419.2 500.3L1421.5 503L1424.3 503.4L1427.3 502.2L1430.4 501.8L1433.5 502.8L1436.5 504.6L1439.3 508L1441.6 512.4L1443.6 518.5L1445.7 528.6L1448.2 545.9L1450.9 567.2L1453.4 586L1455.5 600.2L1457.4 611.8L1459.7 620L1463 623L1466.7 622.6L1470 623L1472.4 625.7L1474.4 629.3L1476.3 634L1478 641L1479.5 649.1L1481.4 654.8L1484.2 655.2L1487.3 653.2L1489.5 654.5L1490.1 662.3L1489.9 673.3L1489.8 683L1490.2 688.3L1490.8 692.3L1491.5 700L1492.2 712.4L1493 728.4L1494 750L1495.5 780.6L1497.2 816.7L1499 850L1500.7 876.9L1502.3 900.9L1504 925L1505.6 947.2L1507.2 969.4L1509 1000L1511.1 1043.7L1513.5 1095.7L1516 1150L1518.6 1204.8L1521.4 1261.9L1524 1320L1526.6 1383L1529 1447L1531 1500L1532.4 1537L1533.4 1563L1534 1580" stroke="#0000ff"/>
<path d="M77 1175L121.3 1173.4L185.2 1171.2L252.7 1169L324.6 1167.1L400.2 1165.2L461.4 1163.4L497.3 1161.6L518.7 1159.9L540 1158L566.3 1155.9L592.4 1153.8L617 1151.6L640.2 1149.5L662 1147.3L681 1145L695.4 1142.6L707 1140.2L720 1137.4L737 1134L755.4 1130.4L771 1127L781.5 1124.4L789.3 1122.2L797 1119.5L805.6 1116.2L814.1 1112.4L822.6 1108L831.2 1102.6L839.9 1096.6L848 1091L855.7 1086L862.9 1081.3L869 1077L873.6 1073.2L877 1069.8L880 1066.5L882.2 1063.5L883.9 1060.6L887 1056.5L892.1 1051.1L898.5 1044.5L905.7 1035.6L913.8 1023.3L922.6 1008.8L931 994.5L938.4 981.1L945.4 968L952 956L958.2 945.3L964.1 935.8L970 927.7L976.1 921.2L982.2 916.2L988 912.3L993.4 909.3L998.5 907.5L1003.3 907L1007.8 908.2L1012 910.8L1016 914.3L1019.6 918.3L1022.9 923.3L1026.4 930L1030.4 939.3L1034.7 950.3L1039 961L1043.4 970.9L1047.8 980.6L1052 989.4L1055.6 997.1L1058.9 1004L1062.4 1010L1066.4 1014.9L1070.7 1019L1075 1022.8L1079.2 1026.5L1083.5 1029.9L1088 1033L1093 1035.9L1098.2 1038.5L1103.5 1040.8L1108.7 1042.5L1113.9 1044L1119 1046L1124 1049.3L1128.8 1053.1L1133 1056L1136.5 1056.9L1139.5 1056.8L1142 1057.5L1144 1060.1L1145.5 1063.6L1147 1066.5L1148.6 1068.4L1150.2 1069.7L1152 1070L1154.2 1068.9L1156.5 1066.7L1158.7 1064L1160.5 1060.7L1162.2 1056.9L1164 1053.6L1165.9 1050.8L1167.8 1048.4L1170 1047L1172.5 1047.6L1175.3 1049.2L1178 1049.8L1180.6 1048.3L1183.2 1045.8L1185.7 1043L1187.8 1040L1189.8 1036.7L1192 1034L1194.7 1032.9L1197.6 1032.4L1201 1030.5L1205.1 1025.3L1209.7 1018.7L1214 1013.8L1217.5 1012.8L1220.6 1013.4L1224 1012.5L1227.8 1007.9L1231.8 1001.7L1235.8 997L1239.6 995.7L1243.3 995.8L1247 994.5L1250.6 990.4L1254.2 984.8L1257.6 979L1260.9 972.9L1264 966.5L1267 961L1269.5 956.4L1271.9 952.6L1274.8 950.7L1278.8 952.2L1283.4 955.6L1287.5 957L1290.8 954.9L1293.7 950.7L1296.5 945.6L1299.1 938.5L1301.5 930.3L1304 925L1306.6 924.6L1309.2 927.1L1311.8 930L1314.3 933.5L1316.9 937.3L1319.4 939L1321.9 936.7L1324.4 932.2L1327 927.8L1330 924.4L1333.1 921.1L1336 917.5L1338.4 914L1340.5 910.3L1342.4 904.8L1344.1 896.1L1345.7 885.7L1347.5 876.7L1349.8 870L1352.3 864.7L1355 861L1357.9 859.6L1361 859.8L1364 860L1366.7 860.1L1369.3 860.2L1371.7 859L1373.8 855L1375.8 849.7L1378 846L1380.8 845.9L1384 847.3L1387 847L1389.7 843.9L1392.3 839L1394.7 833L1396.9 825L1398.8 815.9L1401 808L1403.5 801.3L1406.2 796L1408.7 795L1410.9 801L1412.9 811.2L1415 820.6L1417.1 827.9L1419.1 834.4L1421.5 838.5L1424.3 838.4L1427.3 835.9L1430.4 834.6L1433.5 835.5L1436.5 837.5L1439.3 841L1441.6 845.9L1443.6 852.3L1445.7 861L1448.2 873.4L1450.9 888.1L1453.4 902L1455.6 914.6L1457.5 926.3L1459.7 935L1462.1 939.2L1464.7 940.3L1467.4 940.5L1470.4 939.3L1473.6 937.2L1476.3 938L1478.2 943.9L1479.7 952.7L1481.4 961L1483.5 967.6L1485.8 973.7L1487.8 980L1489.4 986L1490.7 992.2L1492 1000L1493.2 1010.2L1494.3 1022L1495.5 1035L1496.7 1048L1497.9 1062.1L1499.5 1080L1501.6 1103.6L1503.9 1130.9L1506.2 1158.6L1508.2 1185.7L1510.1 1213.1L1512 1240L1513.9 1265.8L1515.7 1291.1L1517.3 1317L1518.7 1344.5L1519.9 1372.7L1521 1400L1522.2 1425.3L1523.3 1449.7L1524.3 1475.7L1525.2 1506.5L1525.9 1538.8L1526.5 1565L1526.8 1582L1526.9 1592.9L1527 1600" stroke="#00ff00"/>
<path d="M77 1525L95.6 1525L123.1 1524.9L156 1524L196.5 1521.9L242.4 1518.9L284.8 1516L319.9 1513.2L351.3 1510.3L381 1508L408.3 1506.7L433.8 1506L461.4 1504.8L495.1 1502.7L530.8 1500.3L560 1498L577.3 1496.3L588.1 1494.7L600 1493L615.9 1491L633 1488.8L650 1486L667.9 1482.1L685.8 1477.6L700 1474L707.7 1472.2L711.7 1471.3L717 1470L725.8 1467.7L735.8 1465.1L745.5 1462.4L754.2 1460L762.6 1457.6L771 1454.7L779.6 1451.1L788.3 1447L797 1442L805.6 1435.8L814.1 1428.6L822.6 1421L831.2 1412.9L839.9 1404.2L848 1395.6L855.7 1386.8L862.9 1378L869 1370L873.1 1364.3L876 1359.4L880 1352L886.2 1340.5L893.4 1326.4L900.6 1311L907.5 1293.8L914.4 1275.2L921 1257.5L927.2 1241.6L933.2 1226.6L939 1212L944.8 1197.3L950.4 1183.1L955.5 1170L959.7 1158.9L963.4 1149.1L967 1139L970.5 1128.4L973.9 1117.5L977.5 1105.7L981.4 1092.6L985.5 1078.6L989.5 1064L993.3 1048.3L997.1 1032.1L1000.7 1017.6L1004.2 1005.3L1007.5 994.8L1011 986.8L1014.8 981.8L1018.7 979.4L1022.6 979L1026.5 980.6L1030.3 984.3L1034 989.4L1037.5 995.8L1041 1003.6L1044.4 1012.5L1047.8 1023L1051.3 1034.7L1054.7 1046L1058 1056.2L1061.4 1066.1L1065 1076.7L1069.1 1088.6L1073.4 1101.2L1077.8 1113.4L1082.1 1125.1L1086.4 1136.4L1090.7 1146.8L1095 1156.2L1099.2 1164.8L1103.5 1172.5L1107.8 1179L1112.1 1184.6L1116.4 1190.5L1120.6 1197.4L1124.8 1204.6L1129 1211L1133.5 1215.9L1138 1220L1142 1224L1145 1228.6L1147.3 1233.1L1149.7 1236.7L1152.2 1238.9L1154.7 1240.2L1157.5 1240.6L1160.7 1239.5L1164.2 1237.5L1167.7 1236.7L1171.1 1238.1L1174.6 1240.6L1178 1243L1181.4 1245L1184.8 1246.9L1188.3 1248.3L1192.1 1249.5L1196.1 1250.3L1200 1249.6L1203.8 1246.4L1207.5 1241.9L1211.4 1238L1215.5 1236.2L1219.8 1235.1L1224.3 1233L1229.3 1228.9L1234.7 1223.7L1239.7 1218.7L1244.3 1214.8L1248.5 1211.2L1252.5 1206L1256.2 1198.1L1259.7 1188.6L1262.8 1180L1265.3 1172.7L1267.5 1166.2L1269.7 1161L1271.9 1157.7L1274.2 1155.6L1277 1153.5L1280.8 1151.5L1285 1149.5L1288.8 1145.8L1291.7 1139.3L1294.2 1131.2L1296.5 1123L1298.7 1114.8L1300.7 1106.6L1302.9 1100L1305.3 1095.8L1307.8 1093.3L1310.5 1092L1313.4 1092.7L1316.4 1094.6L1319.4 1094.8L1322.3 1092.2L1325.3 1087.8L1328.4 1082L1331.8 1074.9L1335.4 1066.4L1338.6 1056.5L1341.3 1044.1L1343.6 1030.3L1346 1018L1348.7 1008.2L1351.5 999.9L1353.9 992.8L1355.7 987.9L1357.2 984.3L1359 978.8L1361.3 970L1364 959.4L1366.6 948L1369.3 935.1L1371.9 921.5L1374.3 910L1376.1 902.4L1377.6 897.1L1379.4 892L1381.7 886.5L1384.4 881.3L1387 876.7L1389.6 873.5L1392.2 870.8L1394.7 866.5L1397 859.9L1399 851.6L1401 841L1402.7 825.9L1404.3 808.4L1406 795L1407.9 789L1410 787L1412.5 785L1415.7 782L1419.3 778.9L1422.7 774.7L1425.5 767.2L1427.9 758.6L1430.4 754L1433 756.3L1435.6 762.7L1438 769.6L1440.2 776.4L1442.2 783.8L1444.4 790L1446.8 793.6L1449.4 796.1L1452 800L1454.6 807.1L1457.1 815.6L1459.7 823L1462.4 829.7L1465 835.3L1467.4 836L1469.1 828.3L1470.5 815.8L1472.5 805L1475.7 797.1L1479.5 791L1482.7 790L1484.8 796.5L1486.4 808.1L1487.8 820.6L1489.1 832.4L1490.3 845L1491.6 859L1493.2 875.1L1494.9 892.5L1496.7 910L1498.8 927.8L1501 945.6L1503 961L1504.7 970L1506.3 976.5L1508 990L1510.1 1015.6L1512.4 1048.3L1514.6 1082L1516.8 1115.3L1518.9 1149.6L1521 1184L1523.1 1218L1525.2 1252L1527 1286L1528.5 1321.6L1529.8 1357.2L1531 1388L1532 1407.4L1532.9 1422L1533.7 1447L1534.6 1496.7L1535.4 1556.9L1536 1600" stroke="#ff00ff"/>
</g>
<g stroke="#000" fill="none" shape-rendering="crispEdges" stroke-dasharray="16 6 3.5 6">
<line x1="461.5" y1="684.0" x2="461.5" y2="1561.0" stroke-width="3"/>
<line x1="1003.2" y1="246.0" x2="1003.2" y2="946.0" stroke-width="4"/>
<line x1="1312.3" y1="301.5" x2="1312.3" y2="1151.0" stroke-width="3"/>
<line x1="1364.8" y1="193.0" x2="1364.8" y2="887.0" stroke-width="4"/>
<line x1="1408.0" y1="87.5" x2="1408.0" y2="880.6" stroke-width="3.5"/>
<line x1="1478.4" y1="267.0" x2="1478.4" y2="991.5" stroke-width="3"/>
</g>
<line x1="1027.7" y1="966.3" x2="1025" y2="1046" stroke="#000" stroke-width="4"/>
<rect x="1469.4" y="1320.6" width="10.2" height="217" fill="#000" shape-rendering="crispEdges"/>
<rect x="882.3" y="405.5" width="6.5" height="66.5" fill="#000" shape-rendering="crispEdges"/>
<text transform="translate(91.2 651.5) scale(1 1.035)" font-size="80">Bare-Ce,K+Co,K</text>
<text transform="translate(96.0 841.2) scale(1 1.035)" font-size="80">Bare-Ce+Co</text>
<text transform="translate(92.2 958.5) scale(1 1.035)" font-size="80">Bare-Ce,K</text>
<text transform="translate(100.8 1147.3) scale(1 1.035)" font-size="80">Bare-Ce</text>
<text transform="translate(108.8 1450.5) scale(1 1.035)" font-size="80">Bare</text>
<text transform="translate(1004.9 233.0) scale(1 1.035)" font-size="80" text-anchor="middle">659</text>
<text transform="translate(1394.7 92.8) scale(1 1.035)" font-size="80" text-anchor="middle">554</text>
<text transform="translate(1299.5 185.7) scale(1 1.035)" font-size="80" text-anchor="middle">565</text>
<text transform="translate(1443.2 1083.6) scale(1 1.035)" font-size="80" text-anchor="middle">534</text>
<text transform="translate(1341.8 1236.7) scale(1 1.035)" font-size="80" text-anchor="middle">578</text>
<text transform="translate(1020.0 1228.0) scale(1 1.035)" font-size="80" text-anchor="middle">653</text>
<text transform="translate(478.8 1480.3) scale(1 1.035)" font-size="70" text-anchor="middle">848</text>
<text transform="translate(1340.3 1468.0) scale(1 1.035)" font-size="80">0.1</text>
<text transform="translate(78.2 1668.0) scale(1 1.035)" font-size="80" text-anchor="middle">900</text>
<text transform="translate(461.9 1668.0) scale(1 1.035)" font-size="80" text-anchor="middle">800</text>
<text transform="translate(845.7 1668.0) scale(1 1.035)" font-size="80" text-anchor="middle">700</text>
<text transform="translate(1229.9 1668.0) scale(1 1.035)" font-size="80" text-anchor="middle">600</text>
<text transform="translate(635.6 1808) scale(1 1.02)" font-size="100">cm<tspan font-size="67" dy="-40" dx="-3">-1</tspan></text>
<text transform="translate(92.3 80.6) scale(1 1.035)" font-size="46.8" class="b">Bare-Ce,K+Co,K</text>
<text transform="translate(94.9 169.4) scale(1 1.035)" font-size="46.8" class="b">Bare-Ce+Co</text>
<text transform="translate(101.8 255.6) scale(1 1.035)" font-size="46.8" class="b">Bare-Ce,K</text>
<text transform="translate(101.3 334.8) scale(1 1.035)" font-size="46.8" class="b">Bare-Ce</text>
<text transform="translate(105.3 412.0) scale(1 1.035)" font-size="46.8" class="b">Bare</text>
<text transform="translate(318.2 528.5) scale(1 1.035)" font-size="40" class="b" text-anchor="middle">3000</text>
<text transform="translate(558.7 528.5) scale(1 1.035)" font-size="40" class="b" text-anchor="middle">2000</text>
<text transform="translate(799.5 528.5) scale(1 1.035)" font-size="40" class="b" text-anchor="middle">1000</text>
<text transform="translate(399.0 570.8) scale(1 1.06)" font-size="48" class="b">cm<tspan font-size="32" dy="-19" dx="1">-1</tspan></text>
<text transform="translate(883.7 460.3) scale(1 1.000)" font-size="37" text-anchor="end">0.05</text>
</svg>
</body></html>
